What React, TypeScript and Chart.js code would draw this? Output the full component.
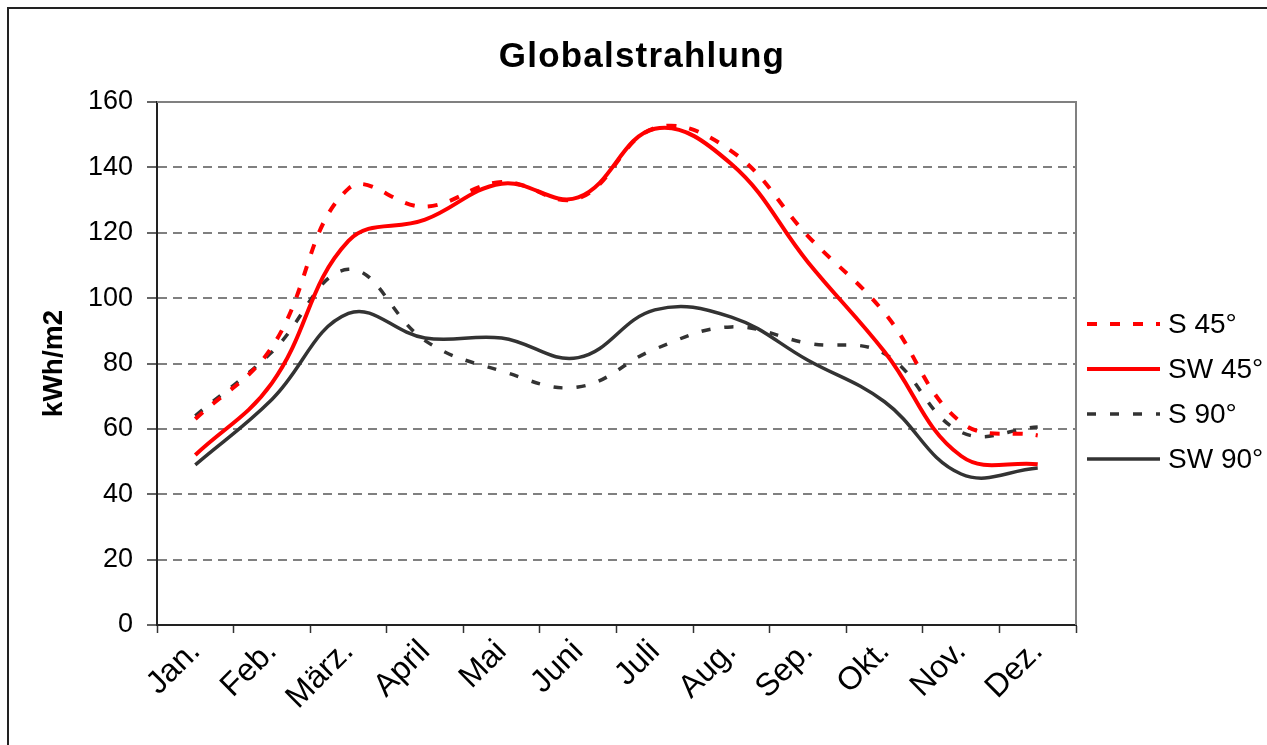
import React, { useEffect, useRef } from 'react';
import { Chart, registerables } from 'chart.js';

Chart.register(...registerables);

// ---- data ----
const TITLE = 'Globalstrahlung';
const Y_TITLE = 'kWh/m2';
const months = ['Jan.', 'Feb.', 'März.', 'April', 'Mai', 'Juni', 'Juli', 'Aug.', 'Sep.', 'Okt.', 'Nov.', 'Dez.'];
const seriesNames = ['S 45°', 'SW 45°', 'S 90°', 'SW 90°'];
const s45 = [63, 85, 133.5, 128, 135.5, 130.5, 152, 145, 119, 95.5, 62, 58];
const sw45 = [52, 74, 117.5, 124, 135, 130.8, 151.8, 141, 111, 83.6, 51.7, 49.2];
const s90 = [64, 83.5, 108.8, 87, 77.7, 72.8, 84.4, 91.2, 86.2, 83, 59, 60.6];
const sw90 = [49, 69, 95.3, 87.8, 87.8, 81.8, 96.4, 94.2, 81, 68.3, 46.2, 48];
const yMin = 0;
const yMax = 160;
const yStep = 20;

const FONT = '"Liberation Sans", Arial, Helvetica, sans-serif';

const framePlugin = {
  id: 'frame',
  beforeDraw(chart: any) {
    const ctx = chart.ctx;
    ctx.save();
    ctx.fillStyle = '#ffffff';
    ctx.fillRect(0, 0, chart.width, chart.height);
    ctx.strokeStyle = '#222222';
    ctx.lineWidth = 2;
    ctx.beginPath();
    ctx.moveTo(8, chart.height + 5);
    ctx.lineTo(8, 8);
    ctx.lineTo(chart.width + 5, 8);
    ctx.stroke();
    ctx.restore();
  },
  beforeDatasetsDraw(chart: any) {
    const { ctx, chartArea } = chart;
    ctx.save();
    ctx.strokeStyle = '#808080';
    ctx.lineWidth = 2;
    ctx.beginPath();
    ctx.moveTo(chartArea.left, chartArea.top);
    ctx.lineTo(chartArea.right, chartArea.top);
    ctx.lineTo(chartArea.right, chartArea.bottom);
    ctx.stroke();
    ctx.restore();
  },
  afterDraw(chart: any) {
    const ctx = chart.ctx;
    ctx.save();
    // title
    ctx.font = 'bold 35px ' + FONT;
    try { (ctx as any).letterSpacing = '1.2px'; } catch (e) {}
    ctx.fillStyle = '#000000';
    ctx.textAlign = 'center';
    ctx.textBaseline = 'alphabetic';
    ctx.fillText(TITLE, 642, 67);
    try { (ctx as any).letterSpacing = '0px'; } catch (e) {}
    // legend
    chart.data.datasets.forEach((ds: any, i: number) => {
      const y = 324 + i * 45;
      ctx.strokeStyle = ds.borderColor;
      ctx.lineWidth = ds.borderWidth;
      ctx.lineCap = 'butt';
      ctx.setLineDash(ds.borderDash || []);
      ctx.beginPath();
      ctx.moveTo(1087, y);
      ctx.lineTo(1160, y);
      ctx.stroke();
      ctx.setLineDash([]);
      ctx.font = '28px ' + FONT;
      ctx.fillStyle = '#000000';
      ctx.textAlign = 'left';
      ctx.textBaseline = 'middle';
      ctx.fillText(ds.label, 1168, y + 1);
    });
    ctx.restore();
  },
};

export default function App() {
  const ref = useRef<HTMLCanvasElement | null>(null);

  useEffect(() => {
    if (!ref.current) return;
    const mk = (label: string, data: number[], color: string, width: number, dash: number[]) => ({
      label,
      data,
      borderColor: color,
      backgroundColor: color,
      borderWidth: width,
      borderDash: dash,
      borderCapStyle: 'butt',
      borderJoinStyle: 'round',
      pointRadius: 0,
      pointHoverRadius: 0,
      fill: false,
      tension: 0.4,
    });
    const chart = new Chart(ref.current, {
      type: 'line',
      data: {
        labels: months,
        datasets: [
          mk(seriesNames[0], s45, '#ff0000', 4, [10, 13]),
          mk(seriesNames[1], sw45, '#ff0000', 4, []),
          mk(seriesNames[2], s90, '#333333', 3.5, [9, 14]),
          mk(seriesNames[3], sw90, '#333333', 3.5, []),
        ] as any,
      },
      options: {
        responsive: false,
        animation: false,
        devicePixelRatio: 1,
        layout: { padding: { left: 0, top: 102, right: 191, bottom: 0 } },
        plugins: {
          legend: { display: false },
          title: { display: false },
          tooltip: { enabled: false },
        },
        scales: {
          x: {
            type: 'category',
            offset: true,
            afterFit: (scale: any) => { scale.height = 120; },
            grid: {
              offset: true,
              drawOnChartArea: false,
              drawTicks: true,
              tickLength: 8,
              tickWidth: 1.5,
              tickColor: '#333333',
              color: '#333333',
            },
            border: { display: true, color: '#222222', width: 2 },
            ticks: {
              autoSkip: false,
              minRotation: 45,
              maxRotation: 45,
              padding: 0,
              color: '#000000',
              font: { family: FONT, size: 32 },
            },
          },
          y: {
            min: yMin,
            max: yMax,
            afterFit: (scale: any) => { scale.width = 157; },
            ticks: {
              stepSize: yStep,
              padding: 14,
              color: '#000000',
              font: { family: FONT, size: 27 },
            },
            grid: {
              drawTicks: true,
              tickLength: 10,
              tickWidth: 1.5,
              tickColor: '#333333',
              lineWidth: 2,
              color: (c: any) => (c.tick && (c.tick.value === yMin || c.tick.value === yMax) ? 'rgba(0,0,0,0)' : '#808080'),
            },
            border: { display: true, color: '#222222', width: 2, dash: [9, 6] },
            title: {
              display: true,
              text: Y_TITLE,
              color: '#000000',
              font: { family: FONT, size: 28, weight: 'bold' },
              padding: { top: 37, bottom: 0 },
            },
          },
        },
      },
      plugins: [framePlugin],
    } as any);
    return () => chart.destroy();
  }, []);

  return (
    <div style={{ position: 'absolute', left: 0, top: 0, width: 1267, height: 745, overflow: 'hidden', background: '#fff' }}>
      <canvas ref={ref} width={1267} height={745} style={{ display: 'block', width: 1267, height: 745 }} />
    </div>
  );
}
